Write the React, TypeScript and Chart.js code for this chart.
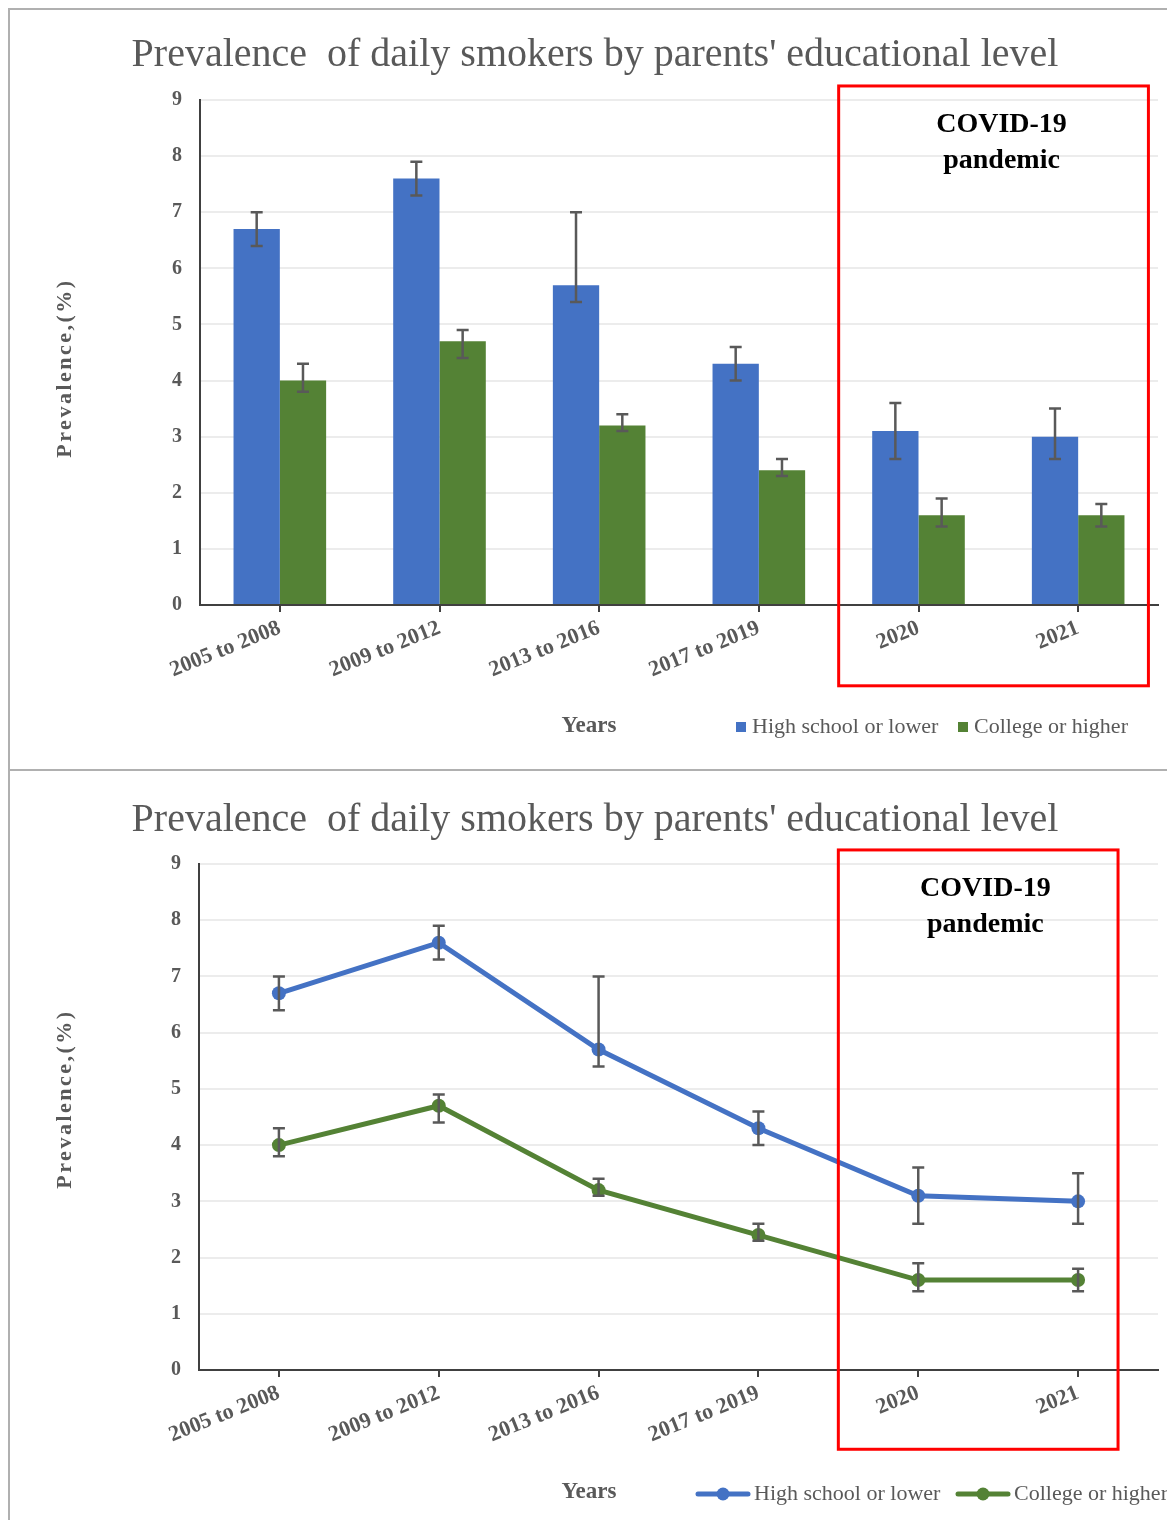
import React, { useEffect, useRef } from "react";
import { Chart, registerables } from "chart.js";

Chart.register(...registerables);

const categories = ["2005 to 2008", "2009 to 2012", "2013 to 2016", "2017 to 2019", "2020", "2021"];
const highSchool = [6.7, 7.6, 5.7, 4.3, 3.1, 3.0];
const highSchoolLow = [6.4, 7.3, 5.4, 4.0, 2.6, 2.6];
const highSchoolHigh = [7.0, 7.9, 7.0, 4.6, 3.6, 3.5];
const college = [4.0, 4.7, 3.2, 2.4, 1.6, 1.6];
const collegeLow = [3.8, 4.4, 3.1, 2.3, 1.4, 1.4];
const collegeHigh = [4.3, 4.9, 3.4, 2.6, 1.9, 1.8];
const seriesNames = ["High school or lower", "College or higher"];
const seriesColors = ["#4472C4", "#548235"];
const yMin = 0;
const yMax = 9;
const yStep = 1;
const chartTitle = "Prevalence  of daily smokers by parents' educational level";
const yTitle = "Prevalence,(%)";
const xTitle = "Years";
const covidLabel = ["COVID-19", "pandemic"];

const SERIF = "'Liberation Serif', 'Times New Roman', serif";
const GRAY = "#595959";

type Decor = {
  kind: "bar" | "line";
  titleY: number;
  yTitleY: number;
  yearsY: number;
  legendY: number;
  legendX: number[];
  box: { x0: number; x1: number; yTop: number; yBottom: number };
  covidX: number;
};

const errorBarPlugin = {
  id: "errorBars",
  afterDatasetsDraw(chart: any) {
    const ctx = chart.ctx;
    const ys = chart.scales.y;
    chart.data.datasets.forEach((ds: any, i: number) => {
      const meta = chart.getDatasetMeta(i);
      meta.data.forEach((el: any, j: number) => {
        const x = el.x;
        const yl = ys.getPixelForValue(ds.errLow[j]);
        const yh = ys.getPixelForValue(ds.errHigh[j]);
        ctx.save();
        ctx.strokeStyle = GRAY;
        ctx.lineWidth = 2.5;
        ctx.beginPath();
        ctx.moveTo(x, yh);
        ctx.lineTo(x, yl);
        ctx.moveTo(x - 6, yh);
        ctx.lineTo(x + 6, yh);
        ctx.moveTo(x - 6, yl);
        ctx.lineTo(x + 6, yl);
        ctx.stroke();
        ctx.restore();
      });
    });
  },
};

function decorPlugin(d: Decor) {
  return {
    id: "decor",
    afterDraw(chart: any) {
      const ctx = chart.ctx;
      const xs = chart.scales.x;
      const ys = chart.scales.y;
      ctx.save();
      // title
      ctx.fillStyle = GRAY;
      ctx.font = `40px ${SERIF}`;
      ctx.textAlign = "center";
      ctx.textBaseline = "alphabetic";
      ctx.fillText(chartTitle, 585, d.titleY);
      // y title
      ctx.save();
      ctx.translate(55, d.yTitleY);
      ctx.rotate(-Math.PI / 2);
      ctx.font = `bold 22px ${SERIF}`;
      try {
        (ctx as any).letterSpacing = "2.5px";
      } catch (e) {}
      ctx.textAlign = "center";
      ctx.textBaseline = "middle";
      ctx.fillText(yTitle, 0, 0);
      ctx.restore();
      // x title
      ctx.font = `bold 23px ${SERIF}`;
      ctx.textAlign = "center";
      ctx.textBaseline = "middle";
      ctx.fillStyle = GRAY;
      ctx.fillText(xTitle, 579, d.yearsY);
      // legend
      ctx.font = `22px ${SERIF}`;
      ctx.textAlign = "left";
      ctx.textBaseline = "middle";
      seriesNames.forEach((name, i) => {
        const lx = d.legendX[i];
        ctx.fillStyle = seriesColors[i];
        let tx: number;
        if (d.kind === "bar") {
          ctx.fillRect(lx, d.legendY - 5, 10, 10);
          tx = lx + 16;
        } else {
          ctx.strokeStyle = seriesColors[i];
          ctx.lineWidth = 5;
          ctx.lineCap = "round";
          ctx.beginPath();
          ctx.moveTo(lx + 2, d.legendY);
          ctx.lineTo(lx + 52, d.legendY);
          ctx.stroke();
          ctx.beginPath();
          ctx.arc(lx + 27, d.legendY, 6.5, 0, Math.PI * 2);
          ctx.fill();
          tx = lx + 58;
        }
        ctx.fillStyle = GRAY;
        ctx.fillText(name, tx, d.legendY);
      });
      // covid box
      const bx0 = xs.getPixelForValue(d.box.x0);
      const bx1 = xs.getPixelForValue(d.box.x1);
      const by0 = ys.getPixelForValue(d.box.yTop);
      const by1 = ys.getPixelForValue(d.box.yBottom);
      ctx.strokeStyle = "#FF0000";
      ctx.lineWidth = 3;
      ctx.lineCap = "butt";
      ctx.strokeRect(bx0, by0, bx1 - bx0, by1 - by0);
      // covid label
      ctx.fillStyle = "#000000";
      ctx.font = `bold 28px ${SERIF}`;
      ctx.textAlign = "center";
      ctx.textBaseline = "middle";
      const cx = xs.getPixelForValue(d.covidX);
      ctx.fillText(covidLabel[0], cx, ys.getPixelForValue(8.56));
      ctx.fillText(covidLabel[1], cx, ys.getPixelForValue(7.92));
      ctx.restore();
    },
  };
}

function buildScales() {
  return {
    x: {
      offset: true,
      afterFit(scale: any) {
        scale.height = 100;
      },
      grid: {
        display: true,
        offset: false,
        drawOnChartArea: false,
        drawTicks: true,
        tickLength: 7,
        color: "#404040",
        lineWidth: 2,
      },
      border: { display: true, color: "#404040", width: 2 },
      ticks: {
        autoSkip: false,
        minRotation: 22,
        maxRotation: 22,
        padding: 3,
        color: GRAY,
        font: { family: SERIF, size: 22, weight: "bold" },
      },
    },
    y: {
      min: yMin,
      max: yMax,
      afterFit(scale: any) {
        scale.width = 60;
      },
      grid: { color: "#ececec", lineWidth: 2, drawTicks: false },
      border: { display: true, color: "#404040", width: 2 },
      ticks: {
        stepSize: yStep,
        padding: 18,
        color: GRAY,
        font: { family: SERIF, size: 20, weight: "bold" },
      },
    },
  };
}

function BarPanel() {
  const ref = useRef<HTMLCanvasElement>(null);
  useEffect(() => {
    if (!ref.current) return;
    const chart = new Chart(ref.current, {
      type: "bar",
      data: {
        labels: categories,
        datasets: [
          {
            label: seriesNames[0],
            data: highSchool,
            backgroundColor: seriesColors[0],
            errLow: highSchoolLow,
            errHigh: highSchoolHigh,
            categoryPercentage: 0.58,
            barPercentage: 1.0,
          } as any,
          {
            label: seriesNames[1],
            data: college,
            backgroundColor: seriesColors[1],
            errLow: collegeLow,
            errHigh: collegeHigh,
            categoryPercentage: 0.58,
            barPercentage: 1.0,
          } as any,
        ],
      },
      options: {
        responsive: false,
        animation: false,
        devicePixelRatio: 1,
        layout: { padding: { left: 130, right: 17, top: 90, bottom: 64 } },
        plugins: { legend: { display: false }, tooltip: { enabled: false }, title: { display: false } },
        scales: buildScales() as any,
      },
      plugins: [
        errorBarPlugin,
        decorPlugin({
          kind: "bar",
          titleY: 56,
          yTitleY: 358,
          yearsY: 716,
          legendY: 717,
          legendX: [726, 948],
          box: { x0: 3.5, x1: 5.44, yTop: 9.25, yBottom: -1.44 },
          covidX: 4.52,
        }),
      ],
    });
    return () => chart.destroy();
  }, []);
  return <canvas ref={ref} width={1165} height={759} style={{ display: "block" }} />;
}

function LinePanel() {
  const ref = useRef<HTMLCanvasElement>(null);
  useEffect(() => {
    if (!ref.current) return;
    const chart = new Chart(ref.current, {
      type: "line",
      data: {
        labels: categories,
        datasets: [
          {
            label: seriesNames[0],
            data: highSchool,
            borderColor: seriesColors[0],
            backgroundColor: seriesColors[0],
            pointBackgroundColor: seriesColors[0],
            borderWidth: 5,
            pointRadius: 7,
            pointBorderWidth: 0,
            tension: 0,
            errLow: highSchoolLow,
            errHigh: highSchoolHigh,
          } as any,
          {
            label: seriesNames[1],
            data: college,
            borderColor: seriesColors[1],
            backgroundColor: seriesColors[1],
            pointBackgroundColor: seriesColors[1],
            borderWidth: 5,
            pointRadius: 7,
            pointBorderWidth: 0,
            tension: 0,
            errLow: collegeLow,
            errHigh: collegeHigh,
          } as any,
        ],
      },
      options: {
        responsive: false,
        animation: false,
        devicePixelRatio: 1,
        layout: { padding: { left: 129, right: 17, top: 93, bottom: 58 } },
        plugins: { legend: { display: false }, tooltip: { enabled: false }, title: { display: false } },
        scales: buildScales() as any,
      },
      plugins: [
        errorBarPlugin,
        decorPlugin({
          kind: "line",
          titleY: 60,
          yTitleY: 328,
          yearsY: 721,
          legendY: 723,
          legendX: [686, 946],
          box: { x0: 3.5, x1: 5.25, yTop: 9.25, yBottom: -1.41 },
          covidX: 4.42,
        }),
      ],
    });
    return () => chart.destroy();
  }, []);
  return <canvas ref={ref} width={1165} height={757} style={{ display: "block" }} />;
}

export default function App() {
  useEffect(() => {
    document.documentElement.style.overflow = "hidden";
    document.body.style.overflow = "hidden";
  }, []);
  const border = "2px solid #b0b0b0";
  return (
    <div style={{ position: "relative", width: 1167, height: 1512 }}>
      <div
        style={{
          position: "absolute",
          left: 0,
          top: 0,
          width: 1165,
          height: 759,
          borderTop: border,
          borderLeft: border,
          borderBottom: border,
          background: "#ffffff",
        }}
      >
        <BarPanel />
      </div>
      <div
        style={{
          position: "absolute",
          left: 0,
          top: 763,
          width: 1165,
          height: 757,
          borderLeft: border,
          background: "#ffffff",
        }}
      >
        <LinePanel />
      </div>
    </div>
  );
}
